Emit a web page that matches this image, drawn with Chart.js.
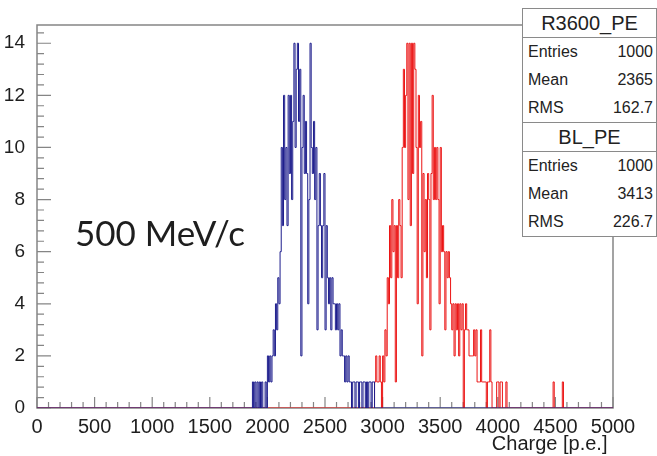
<!DOCTYPE html>
<html>
<head>
<meta charset="utf-8">
<script src="https://cdn.jsdelivr.net/npm/chart.js@4.4.0/dist/chart.umd.min.js"></script>
<style>
  html, body { margin: 0; padding: 0; background: #fff; }
  #wrap { position: relative; width: 657px; height: 456px; }
  #chart { position: absolute; left: 0; top: 0; }
  .note {
    position: absolute; left: 75px; top: 211px;
    font-family: 'Lato', sans-serif; font-size: 35px; color: #1e1e1e;
  }
  .stats {
    position: absolute; left: 522px; top: 8px; width: 133px;
    background: #fff; border: 1.5px solid #8a8a8a;
    font-family: 'Liberation Sans', Arial, sans-serif; color: #222;
  }
  .stats .head { text-align: center; font-size: 20px; height: 28px; line-height: 28px; }
  .stats .row { display: flex; justify-content: space-between; padding: 0 3px 0 5px; font-size: 16px; height: 28px; line-height: 28px; }
  .stats .sep { border-top: 1.5px solid #8a8a8a; }
</style>
</head>
<body>
<div id="wrap">
  <canvas id="chart" width="657" height="456"></canvas>
  <div class="note">500 MeV/c</div>
  <div class="stats">
    <div class="head">R3600_PE</div>
    <div class="sep"></div>
    <div class="row"><span>Entries</span><span>1000</span></div>
    <div class="row"><span>Mean</span><span>2365</span></div>
    <div class="row"><span>RMS</span><span>162.7</span></div>
    <div class="sep"></div>
    <div class="head">BL_PE</div>
    <div class="sep"></div>
    <div class="row"><span>Entries</span><span>1000</span></div>
    <div class="row"><span>Mean</span><span>3413</span></div>
    <div class="row"><span>RMS</span><span>226.7</span></div>
  </div>
</div>
<script>
// histogram bins, 10 p.e. wide, counts
const binWidth = 10;

const blueStart = 1870;
const blueCounts = [
  1,0,1,0,1,0,1,0,1,0,0,1,0,
  2,1,2,1,2,3,2,4,3,5,
  4,6,10,7,12,8,10,7,12,9,
  12,8,11,14,10,13,14,11,13,2,
  10,12,9,11,9,4,8,14,10,9,
  11,8,10,3,7,9,7,5,7,9,
  3,7,5,4,5,3,5,4,4,3,
  4,3,4,2,3,2,2,1,2,1,
  2,1,1,0,1,1,0,1,1,0,
  1,1,0,1,1,0,1,0,1,1,0,1,1
];

const redStart = 2930;
const redCounts = [
  1,2,1,1,2,1,0,2,1,3,
  2,5,4,7,5,8,6,7,1,7,
  5,8,7,5,10,13,10,12,14,8,
  14,7,14,9,14,13,10,4,12,10,
  11,2,9,6,8,5,9,8,3,9,
  12,8,10,8,10,8,4,10,6,7,
  6,3,6,5,6,5,4,3,4,2,
  4,3,4,2,4,3,4,0,3,4,
  3,3,2,2,2,2,3,2,3,1,
  1,1,3,1,1,1,1,0,1,1,
  3,1,0,0,0,0,1,1,0,1,1,0,0,0,1
];
const redOutlierX = [4480, 4560];
const redOutlierN = [1, 1];

const xTicks = [0, 500, 1000, 1500, 2000, 2500, 3000, 3500, 4000, 4500, 5000];
const yTicks = [0, 2, 4, 6, 8, 10, 12, 14];

const xMin = 0, xMax = 5000, yMax = 14.7;

// turn bin lists into step points (left edges), closed to zero
function steps(start, counts, extraX, extraN) {
  const bins = [];
  counts.forEach((n, i) => bins.push([start + i * binWidth, n]));
  (extraX || []).forEach((x, i) => bins.push([x, extraN[i]]));
  bins.sort((a, b) => a[0] - b[0]);
  const pts = [{ x: xMin, y: 0 }];
  let lastEnd = null;
  bins.forEach(([x, n]) => {
    if (lastEnd !== null && x > lastEnd) pts.push({ x: lastEnd, y: 0 });
    pts.push({ x: x, y: n });
    lastEnd = x + binWidth;
  });
  pts.push({ x: lastEnd, y: 0 });
  pts.push({ x: xMax, y: 0 });
  return pts;
}

const axisColor = '#858585';
const labelFont = "'Liberation Sans', Arial, sans-serif";

const rootAxes = {
  id: 'rootAxes',
  beforeDatasetsDraw(chart) {
    const { ctx, chartArea: a, scales } = chart;
    ctx.save();
    ctx.strokeStyle = axisColor;
    ctx.lineWidth = 1.5;
    ctx.strokeRect(a.left, a.top, a.right - a.left, a.bottom - a.top);
    ctx.lineWidth = 1.2;
    ctx.beginPath();
    for (let v = xMin; v <= xMax; v += 100) {
      const px = scales.x.getPixelForValue(v);
      const len = v % 500 === 0 ? 11 : 6;
      ctx.moveTo(px, a.bottom);
      ctx.lineTo(px, a.bottom - len);
    }
    for (let k = 0; k * 0.4 <= yMax; k++) {
      const py = scales.y.getPixelForValue(k * 0.4);
      const len = k % 5 === 0 ? 14 : 7;
      ctx.moveTo(a.left, py);
      ctx.lineTo(a.left + len, py);
    }
    ctx.stroke();
    ctx.restore();
  }
};

new Chart(document.getElementById('chart'), {
  type: 'line',
  data: {
    datasets: [
      {
        label: 'R3600_PE',
        data: steps(blueStart, blueCounts),
        borderColor: 'rgb(28,28,140)',
        borderWidth: 1,
        stepped: 'before',
        pointRadius: 0,
        fill: false
      },
      {
        label: 'BL_PE',
        data: steps(redStart, redCounts, redOutlierX, redOutlierN),
        borderColor: 'rgb(235,20,20)',
        borderWidth: 1,
        stepped: 'before',
        pointRadius: 0,
        fill: false
      }
    ]
  },
  options: {
    responsive: false,
    animation: false,
    layout: { padding: { left: 0, right: 44, top: 25, bottom: 0 } },
    plugins: { legend: { display: false }, tooltip: { enabled: false } },
    scales: {
      x: {
        type: 'linear', min: xMin, max: xMax,
        afterBuildTicks: s => { s.ticks = xTicks.map(v => ({ value: v })); },
        afterFit: s => { s.height = 48; },
        grid: { display: false },
        border: { display: false },
        ticks: {
          color: '#1e1e1e', padding: -1, maxRotation: 0, autoSkip: false,
          callback: v => String(v),
          font: { family: labelFont, size: 20 }
        },
        title: {
          display: true, text: 'Charge [p.e.] ', align: 'end', color: '#1e1e1e',
          padding: { top: -6, bottom: 0 },
          font: { family: labelFont, size: 20 }
        }
      },
      y: {
        min: 0, max: yMax,
        afterBuildTicks: s => { s.ticks = yTicks.map(v => ({ value: v })); },
        afterFit: s => { s.width = 37; },
        grid: { display: false },
        border: { display: false },
        ticks: {
          color: '#1e1e1e', padding: 4,
          callback: v => String(v),
          font: { family: labelFont, size: 19 }
        }
      }
    }
  },
  plugins: [rootAxes]
});
</script>
</body>
</html>
